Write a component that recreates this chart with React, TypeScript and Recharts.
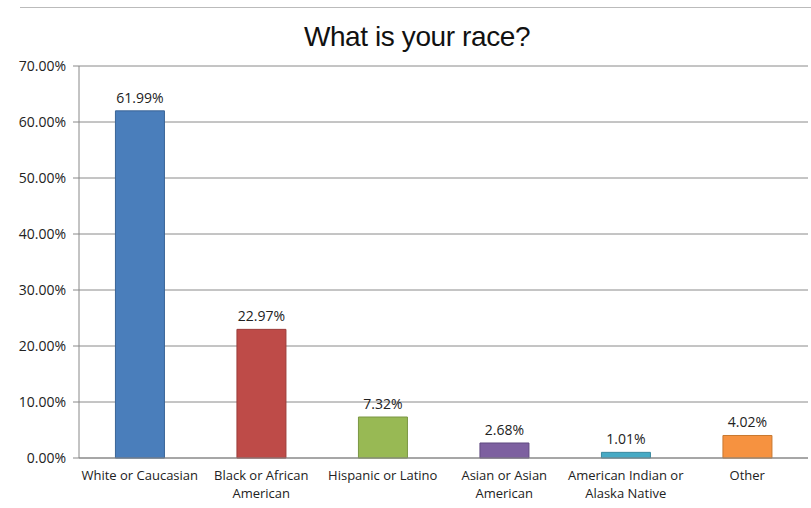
import { BarChart, Bar, XAxis, YAxis, CartesianGrid, Cell, LabelList } from "recharts"

const categories = [
  "White or Caucasian",
  "Black or African\nAmerican",
  "Hispanic or Latino",
  "Asian or Asian\nAmerican",
  "American Indian or\nAlaska Native",
  "Other",
]
const shares = [61.99, 22.97, 7.32, 2.68, 1.01, 4.02]
const yTicks = [0, 10, 20, 30, 40, 50, 60, 70]

const fills = ["#4A7EBB", "#BE4B48", "#98B954", "#7D60A0", "#46AAC5", "#F69240"]
const strokes = ["#3A6496", "#9C3D3A", "#7A9642", "#604A80", "#3A8AA0", "#C8782F"]

const data = categories.map((name, i) => ({ name, value: shares[i] }))

const font = "'Open Sans', 'Liberation Sans', sans-serif"

function CategoryTick(props: any) {
  const { x, y, payload } = props
  const lines = String(payload.value).split("\n")
  return (
    <text x={x} y={y + 14} textAnchor="middle" fontSize={13} fill="#222" fontFamily={font}>
      {lines.map((l, i) => (
        <tspan key={i} x={x} dy={i === 0 ? 0 : 18}>
          {l}
        </tspan>
      ))}
    </text>
  )
}

export default function App() {
  return (
    <div style={{ position: "absolute", left: 0, top: 0, width: 811, height: 508, background: "#fff" }}>
      <div style={{ position: "absolute", left: 20, right: 0, top: 7, height: 1, background: "#bbb" }} />
      <div
        style={{
          position: "absolute",
          left: 0,
          width: 811,
          boxSizing: "border-box",
          top: 21,
          textAlign: "center",
          fontFamily: "'Liberation Sans', Arial, sans-serif",
          fontSize: 28,
          lineHeight: "32px",
          color: "#111",
          paddingLeft: 23,
          letterSpacing: -0.4,
        }}
      >
        What is your race?
      </div>
      <BarChart
        width={811}
        height={508}
        data={data}
        margin={{ top: 66, right: 3, bottom: 0, left: 0 }}
        barCategoryGap="30%"
      >
        <CartesianGrid vertical={false} stroke="#8a8a8a" strokeWidth={1} />
        <XAxis
          dataKey="name"
          height={50}
          interval={0}
          tick={<CategoryTick />}
          tickLine={false}
          axisLine={{ stroke: "#888" }}
        />
        <YAxis
          width={79}
          domain={[0, 70]}
          ticks={yTicks}
          interval={0}
          tickFormatter={(v: number) => `${v.toFixed(2)}%`}
          tick={{ fontSize: 14, fill: "#222", fontFamily: font }}
          tickLine={{ stroke: "#888" }}
          tickSize={6}
          tickMargin={7}
          axisLine={{ stroke: "#888" }}
        />
        <Bar dataKey="value" isAnimationActive={false}>
          {data.map((d, i) => (
            <Cell key={d.name} fill={fills[i]} stroke={strokes[i]} strokeWidth={1} />
          ))}
          <LabelList
            dataKey="value"
            position="top"
            offset={8}
            formatter={(v: any) => `${Number(v).toFixed(2)}%`}
            style={{ fontSize: 14, fill: "#222", fontFamily: font }}
          />
        </Bar>
      </BarChart>
    </div>
  )
}
